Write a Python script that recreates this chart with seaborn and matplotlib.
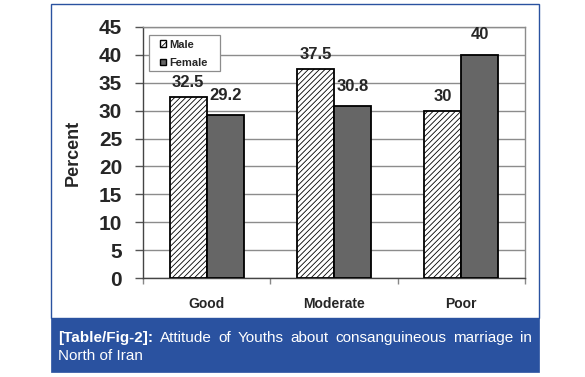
import matplotlib
matplotlib.use("Agg")
import matplotlib.pyplot as plt
import seaborn as sns
import pandas as pd
from matplotlib.patches import Rectangle, Patch

categories = ["Good", "Moderate", "Poor"]
male = [32.5, 37.5, 30]
female = [29.2, 30.8, 40]
series = ["Male", "Female"]
yticks = [0, 5, 10, 15, 20, 25, 30, 35, 40, 45]
caption_bold = "[Table/Fig-2]:"
caption_line1 = "Attitude of Youths about consanguineous marriage in"
caption_line2 = "North of Iran"

df = pd.DataFrame({
    "cat": categories * 2,
    "val": male + female,
    "sex": ["Male"] * 3 + ["Female"] * 3,
})

sns.set_style("white")
plt.rcParams['font.family'] = ['Liberation Sans', 'DejaVu Sans']
plt.rcParams['hatch.linewidth'] = 0.6
plt.rcParams['hatch.color'] = 'black'

W, H = 585, 377
fig = plt.figure(figsize=(W / 100, H / 100), dpi=100)
fig.patch.set_facecolor('white')

blue = '#2a52a0'
# frame and caption
fig.patches.append(Rectangle((51 / W, 1 - 318 / H), (539 - 51) / W, (318 - 4) / H,
                             transform=fig.transFigure, facecolor='white',
                             edgecolor=blue, linewidth=1.0, zorder=-2))
fig.patches.append(Rectangle((51 / W, 1 - 372 / H), (539 - 51) / W, (372 - 318) / H,
                             transform=fig.transFigure, facecolor=blue,
                             edgecolor=blue, linewidth=0.5, zorder=-2))

AX_L, AX_T, AX_W, AX_H = 143, 27, 382, 251
ax = fig.add_axes([AX_L / W, 1 - (AX_T + AX_H) / H, AX_W / W, AX_H / H])
ax.set_facecolor('none')
ax.set_zorder(1)

pal = {"Male": "white", "Female": "#666666"}
sns.barplot(data=df, x="cat", y="val", hue="sex", hue_order=series,
            palette=pal, edgecolor="black", linewidth=1.3, width=0.58,
            ax=ax, legend=False, zorder=3)

for p in ax.containers[0]:
    p.set_hatch('//////')

ax.set_ylim(0, 45)
ax.set_xlim(-0.5, 2.5)
ax.set_yticks(yticks)
ax.set_yticklabels([str(t) for t in yticks], fontsize=15, fontweight='bold')
ax.yaxis.grid(True, color='#8c8c8c', linewidth=1.0, zorder=0)
ax.set_axisbelow(True)
ax.tick_params(axis='y', length=6, width=1, color='#555555', pad=9, direction='out', left=True)
ax.set_xticks([0, 1, 2])
ax.set_xticklabels(categories, fontsize=10, fontweight='bold')
ax.set_xticks([-0.5, 0.5, 1.5, 2.5], minor=True)
ax.tick_params(axis='x', which='major', length=0, pad=14)
ax.tick_params(axis='x', which='minor', length=4, width=1, color='#888888', bottom=True, direction='out')
ax.set_xlabel("")
ax.set_ylabel("Percent", fontsize=13, fontweight='bold', labelpad=12)

for s in ['top', 'right']:
    ax.spines[s].set_visible(True)
    ax.spines[s].set_color('#8c8c8c')
    ax.spines[s].set_linewidth(1.0)
ax.spines['left'].set_color('#444444')
ax.spines['bottom'].set_color('#444444')
ax.spines['left'].set_linewidth(1.0)
ax.spines['bottom'].set_linewidth(1.0)

pads = [5, 9]
for cont, pad in zip(ax.containers, pads):
    labels = [f"{v:g}" for v in cont.datavalues]
    ax.bar_label(cont, labels=labels, padding=pad, fontsize=12, fontweight='bold')

# legend box (frame drawn separately for Excel-like padding)
ax.add_patch(Rectangle(((149 - AX_L) / AX_W, 1 - (71 - AX_T) / AX_H),
                       (220 - 149) / AX_W, (71 - 35) / AX_H,
                       transform=ax.transAxes, facecolor='white',
                       edgecolor='#8c8c8c', linewidth=0.9, zorder=4, clip_on=False))
handles = [Patch(facecolor='white', edgecolor='black', hatch='////', linewidth=1.0),
           Patch(facecolor='#666666', edgecolor='black', linewidth=1.0)]
leg = ax.legend(handles, series, loc='upper left',
                bbox_to_anchor=((160 - AX_L) / AX_W, 1 - (39.5 - AX_T) / AX_H),
                prop={'weight': 'bold', 'size': 8}, handlelength=0.55, handleheight=0.55,
                handletextpad=0.25, frameon=False, borderpad=0,
                labelspacing=0.75, borderaxespad=0)
leg.set_zorder(5)

# caption text, first line justified
renderer = fig.canvas.get_renderer()
x_left, x_right = 58 / W, 532 / W
y1, y2 = 1 - 338 / H, 1 - 356 / H
fs = 11
words = [(caption_bold, 'bold')] + [(w, 'normal') for w in caption_line1.split()]
texts = []
for w, wt in words:
    t = fig.text(0, y1, w, color='white', fontsize=fs, fontweight=wt,
                 family=['Liberation Sans', 'DejaVu Sans'], va='center', ha='left')
    texts.append(t)
widths = [t.get_window_extent(renderer).width / (W) for t in texts]
gap = (x_right - x_left - sum(widths)) / (len(texts) - 1)
x = x_left
for t, w in zip(texts, widths):
    t.set_x(x)
    x += w + gap
fig.text(x_left, y2, caption_line2, color='white', fontsize=fs,
         family=['Liberation Sans', 'DejaVu Sans'], va='center', ha='left')

fig.savefig("out.png", dpi=100)
